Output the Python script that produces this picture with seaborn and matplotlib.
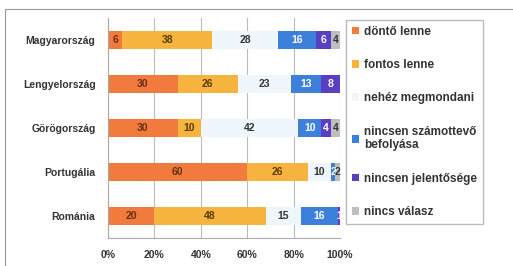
import numpy as np
import pandas as pd
import matplotlib
matplotlib.use("Agg")
import matplotlib.pyplot as plt
from matplotlib.patches import Patch, Rectangle
import seaborn as sns

countries = ["Magyarország", "Lengyelország", "Görögország", "Portugália", "Románia"]
categories = ["döntő lenne", "fontos lenne", "nehéz megmondani",
              "nincsen számottevő\nbefolyása", "nincsen jelentősége", "nincs válasz"]
dontő = [6, 30, 30, 60, 20]
fontos = [38, 26, 10, 26, 48]
nehez = [28, 23, 42, 10, 15]
szamottevo = [16, 13, 10, 2, 16]
jelentoseg = [6, 8, 4, 0, 1]
nincs = [4, 0, 4, 2, 0]
colors = ["#F07B3C", "#F6B33E", "#EEF5FB", "#3D80DC", "#5A3FC2", "#BEBEBE"]
text_colors = ["#6a2e10", "#5a3a05", "#333333", "white", "white", "#333333"]

sns.set_style("white")
plt.rcParams["font.family"] = ["Liberation Sans", "DejaVu Sans"]

df = pd.DataFrame(np.array([dontő, fontos, nehez, szamottevo, jelentoseg, nincs]).T,
                  index=countries, columns=categories)
pct = df.div(df.sum(axis=1), axis=0) * 100
cum = pct.cumsum(axis=1)

fig = plt.figure(figsize=(5.13, 2.66), dpi=100)
ax = fig.add_axes([108 / 513, 28 / 266, 232 / 513, 220 / 266])

# draw cumulative bars from the longest to the shortest so they stack
for i in range(len(categories) - 1, -1, -1):
    sns.barplot(x=cum.iloc[:, i].values, y=countries, orient="h", color=colors[i],
                width=0.4, ax=ax, saturation=1, edgecolor="none")

for r, country in enumerate(countries):
    for i, cat in enumerate(categories):
        v = df.loc[country, cat]
        if v == 0:
            continue
        center = cum.iloc[r, i] - pct.iloc[r, i] / 2
        ax.text(center, r, str(v), ha="center", va="center", fontsize=7.5,
                fontweight="bold", color=text_colors[i])

ax.set_xlim(0, 100)
ax.set_ylim(4.5, -0.5)
ax.set_xticks(range(0, 101, 20))
ax.set_xticklabels([f"{t}%" for t in range(0, 101, 20)], fontsize=7.5, fontweight="bold", color="#333333")
ax.set_yticks(range(len(countries)))
ax.set_yticklabels(countries, fontsize=7.5, fontweight="bold", color="#333333")
ax.set_yticks(np.arange(-0.5, 5, 1), minor=True)
ax.tick_params(axis="y", which="major", length=0, pad=9)
ax.tick_params(axis="y", which="minor", length=3, color="#aaaaaa", direction="out")
ax.tick_params(axis="x", length=3, color="#aaaaaa", pad=6)
ax.set_xlabel("")
ax.set_ylabel("")
ax.grid(axis="x", color="#bbbbbb", linewidth=0.8)
ax.set_axisbelow(True)
for s in ["top", "right"]:
    ax.spines[s].set_visible(False)
for s in ["left", "bottom"]:
    ax.spines[s].set_color("#aaaaaa")
    ax.spines[s].set_linewidth(0.8)

handles = [Patch(facecolor=c, edgecolor="none") for c in colors]
leg = fig.legend(handles, categories, loc="upper left", bbox_to_anchor=(346 / 513, 246 / 266),
                 frameon=True, fancybox=False, edgecolor="#aaaaaa",
                 prop={"weight": "bold", "size": 8.5}, handlelength=0.6, handleheight=0.6,
                 handletextpad=0.4, labelspacing=1.8, borderpad=0.5, borderaxespad=0)
for t in leg.get_texts():
    t.set_color("#333333")

fig.patches.append(Rectangle((5 / 513, -0.1), 1.2, 1.1 - 9 / 266, transform=fig.transFigure,
                             fill=False, edgecolor="#999999", linewidth=0.8))

fig.savefig("out.png", dpi=100)
